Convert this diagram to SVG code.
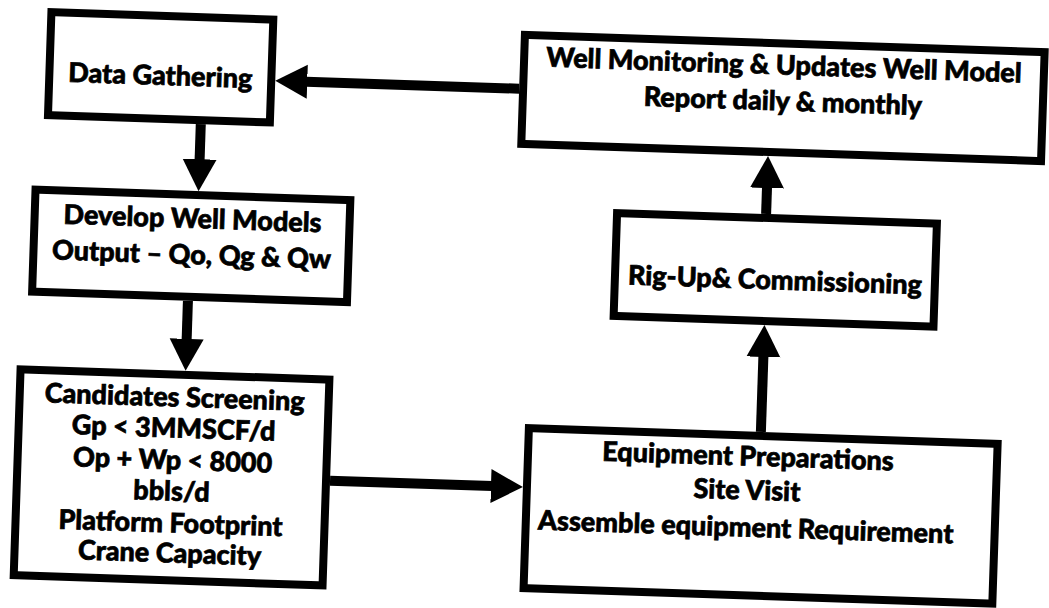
<svg xmlns="http://www.w3.org/2000/svg" width="1049" height="608" viewBox="0 0 1049 608">
<defs>
<style>
.box{fill:#fff;stroke:#000;stroke-width:8}
.lbl{font-family:Lato,"Open Sans","Liberation Sans",sans-serif;font-weight:900;font-size:27px;fill:#000;stroke:#000;stroke-width:0.7;text-anchor:middle}
.conn{stroke:#000;stroke-width:10;fill:none;marker-end:url(#ah)}
</style>
<marker id="ah" markerUnits="userSpaceOnUse" markerWidth="34" markerHeight="36" viewBox="0 0 34 36" refX="1" refY="17" orient="auto">
<path d="M0,0 L32,17 L0,34 z" fill="#000"/>
</marker>
</defs>
<rect width="1049" height="608" fill="#fff"/>
<g transform="rotate(1.9 524 304)">
<g id="connectors">
<line class="conn" x1="512" y1="89" x2="299" y2="89"/>
<line class="conn" x1="195" y1="135" x2="195" y2="171"/>
<line class="conn" x1="188" y1="312" x2="188" y2="351"/>
<line class="conn" x1="336" y1="487" x2="498" y2="487"/>
<line class="conn" x1="765" y1="424" x2="765" y2="348"/>
<line class="conn" x1="763" y1="206" x2="763" y2="179"/>
</g>
<g id="data-gathering">
<rect class="box" x="42" y="28" width="222" height="103"/>
<text class="lbl" x="153" y="97">Data Gathering</text>
</g>
<g id="well-monitoring">
<rect class="box" x="516" y="35" width="520" height="109"/>
<text class="lbl" x="776" y="66">Well Monitoring &amp; Updates Well Model</text>
<text class="lbl" x="776" y="102">Report daily &amp; monthly</text>
</g>
<g id="develop-models">
<rect class="box" x="32" y="206" width="315" height="102"/>
<text class="lbl" x="190" y="239">Develop Well Models</text>
<text class="lbl" x="190" y="275">Output – Qo, Qg &amp; Qw</text>
</g>
<g id="candidates-screening">
<rect class="box" x="23" y="386" width="309" height="206"/>
<text class="lbl" x="178" y="418">Candidates Screening</text>
<text class="lbl" x="178" y="449">Gp &lt; 3MMSCF/d</text>
<text class="lbl" x="178" y="481">Op + Wp &lt; 8000</text>
<text class="lbl" x="178" y="512">bbls/d</text>
<text class="lbl" x="178" y="544">Platform Footprint</text>
<text class="lbl" x="178" y="574">Crane Capacity</text>
</g>
<g id="rig-up">
<rect class="box" x="614" y="210" width="320" height="103"/>
<text class="lbl" x="774" y="281">Rig-Up&amp; Commissioning</text>
</g>
<g id="equipment-preparations">
<rect class="box" x="533" y="428" width="469" height="160"/>
<text class="lbl" x="753" y="458">Equipment Preparations</text>
<text class="lbl" x="753" y="492">Site Visit</text>
<text class="lbl" x="753" y="529">Assemble equipment Requirement</text>
</g>
</g>
</svg>
